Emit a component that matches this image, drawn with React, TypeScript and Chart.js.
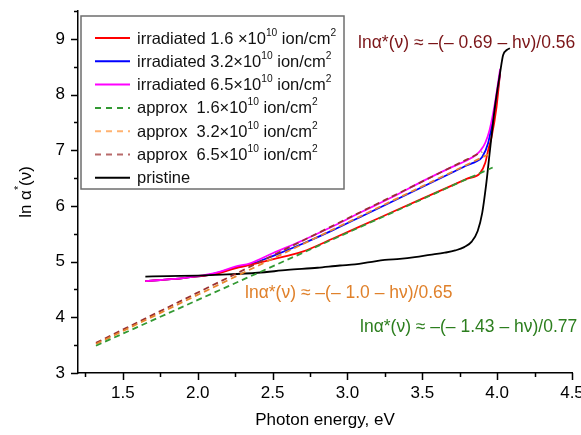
import React, { useEffect, useRef } from "react";
import { Chart, registerables } from "chart.js";

Chart.register(...registerables);

const FONT = "'Liberation Sans', Arial, Helvetica, sans-serif";

// ---- ticks ----
const xTicks = [1.5, 2.0, 2.5, 3.0, 3.5, 4.0, 4.5];
const xMinorTicks = [1.25, 1.75, 2.25, 2.75, 3.25, 3.75, 4.25];
const yTicks = [3, 4, 5, 6, 7, 8, 9];
const yMinorTicks = [3.5, 4.5, 5.5, 6.5, 7.5, 8.5, 9.5];

// ---- series ----
const irr16X = [1.65, 1.75, 1.85, 1.95, 2.05, 2.15, 2.25, 2.35, 2.5, 2.7, 2.9, 3.1, 3.3, 3.5, 3.7, 3.8, 3.886, 3.92, 3.94, 3.963, 3.996, 4.019];
const irr16Y = [4.65, 4.67, 4.69, 4.72, 4.75, 4.8, 4.88, 4.94, 5.04, 5.18, 5.41, 5.65, 5.89, 6.13, 6.37, 6.49, 6.59, 6.77, 7.0, 7.24, 7.78, 8.38];

const irr32X = [1.65, 1.75, 1.85, 1.95, 2.05, 2.15, 2.25, 2.35, 2.5, 2.7, 2.9, 3.1, 3.3, 3.5, 3.7, 3.8, 3.86, 3.9, 3.94, 3.975, 4.0, 4.02];
const irr32Y = [4.65, 4.67, 4.69, 4.72, 4.75, 4.81, 4.89, 4.95, 5.1, 5.32, 5.56, 5.82, 6.08, 6.34, 6.6, 6.73, 6.8, 6.88, 7.13, 7.61, 8.0, 8.38];

const irr65X = [1.65, 1.75, 1.85, 1.95, 2.05, 2.15, 2.25, 2.35, 2.5, 2.7, 2.9, 3.1, 3.3, 3.5, 3.7, 3.8, 3.86, 3.89, 3.92, 3.95, 3.985, 4.02];
const irr65Y = [4.65, 4.67, 4.69, 4.72, 4.76, 4.82, 4.91, 4.97, 5.15, 5.38, 5.63, 5.9, 6.16, 6.44, 6.7, 6.82, 6.92, 7.0, 7.13, 7.37, 7.84, 8.46];

const appr16X = [1.32, 3.97];
const appr16Y = [3.49, 6.69];
const appr32X = [1.32, 3.96];
const appr32Y = [3.52, 6.95];
const appr65X = [1.32, 3.9];
const appr65Y = [3.54, 6.97];

const pristX = [1.65, 1.8, 2.0, 2.2, 2.4, 2.6, 2.8, 2.95, 3.05, 3.15, 3.25, 3.35, 3.45, 3.55, 3.65, 3.72, 3.78, 3.83, 3.87, 3.9, 3.925, 3.952, 3.985, 4.019, 4.04, 4.064, 4.085];
const pristY = [4.73, 4.74, 4.75, 4.77, 4.8, 4.85, 4.89, 4.93, 4.95, 4.99, 5.03, 5.05, 5.08, 5.12, 5.16, 5.2, 5.26, 5.36, 5.55, 5.87, 6.35, 7.0, 7.78, 8.38, 8.71, 8.8, 8.83];

const seriesLabels = [
  "irradiated 1.6 ×10^{10} ion/cm^{2}",
  "irradiated 3.2×10^{10} ion/cm^{2}",
  "irradiated 6.5×10^{10} ion/cm^{2}",
  "approx  1.6×10^{10} ion/cm^{2}",
  "approx  3.2×10^{10} ion/cm^{2}",
  "approx  6.5×10^{10} ion/cm^{2}",
  "pristine",
];

const annotationTexts = [
  "lnα*(ν) ≈ –(– 0.69 – hν)/0.56",
  "lnα*(ν) ≈ –(– 1.0 – hν)/0.65",
  "lnα*(ν) ≈ –(– 1.43 – hν)/0.77",
];

const xTitle = "Photon energy, eV";
const yTitle = "ln α^{*}(ν)";

function pts(xs: number[], ys: number[]) {
  return xs.map((x, i) => ({ x, y: ys[i] }));
}

type Part = { t: string; sup: boolean };
function parseRich(text: string): Part[] {
  const parts: Part[] = [];
  const re = /\^\{([^}]*)\}/g;
  let last = 0;
  let m: RegExpExecArray | null;
  while ((m = re.exec(text))) {
    if (m.index > last) parts.push({ t: text.slice(last, m.index), sup: false });
    parts.push({ t: m[1], sup: true });
    last = m.index + m[0].length;
  }
  if (last < text.length) parts.push({ t: text.slice(last), sup: false });
  return parts;
}

function richWidth(ctx: CanvasRenderingContext2D, text: string, size: number) {
  let w = 0;
  for (const p of parseRich(text)) {
    ctx.font = `${p.sup ? size * 0.62 : size}px ${FONT}`;
    w += ctx.measureText(p.t).width;
  }
  return w;
}

function drawRich(ctx: CanvasRenderingContext2D, text: string, x: number, y: number, size: number, color: string) {
  ctx.fillStyle = color;
  ctx.textBaseline = "middle";
  ctx.textAlign = "left";
  let cx = x;
  for (const p of parseRich(text)) {
    ctx.font = `${p.sup ? size * 0.62 : size}px ${FONT}`;
    ctx.fillText(p.t, cx, p.sup ? y - size * 0.38 : y);
    cx += ctx.measureText(p.t).width;
  }
}

const annotationPlugin = {
  id: "annotations",
  afterDatasetsDraw(chart: any) {
    const { ctx, scales } = chart;
    const cfg = [
      { x: 3.071, y: 8.93, color: "#7B1518" },
      { x: 2.316, y: 4.44, color: "#E0812B" },
      { x: 3.084, y: 3.83, color: "#2C7E1E" },
    ];
    ctx.save();
    annotationTexts.forEach((t, i) => {
      const c = cfg[i];
      drawRich(ctx, t, scales.x.getPixelForValue(c.x), scales.y.getPixelForValue(c.y), 17.5, c.color);
    });
    ctx.restore();
  },
};

const axisPlugin = {
  id: "axisDecor",
  afterDraw(chart: any) {
    const { ctx, scales, chartArea } = chart;
    const xs = scales.x;
    const ys = scales.y;
    ctx.save();
    ctx.strokeStyle = "#000";
    ctx.lineWidth = 1.5;
    ctx.beginPath();
    xTicks.forEach((v) => {
      const p = Math.round(xs.getPixelForValue(v)) + 0.5;
      ctx.moveTo(p, chartArea.bottom);
      ctx.lineTo(p, chartArea.bottom + 7);
    });
    xMinorTicks.forEach((v) => {
      const p = Math.round(xs.getPixelForValue(v)) + 0.5;
      ctx.moveTo(p, chartArea.bottom);
      ctx.lineTo(p, chartArea.bottom + 4);
    });
    yTicks.forEach((v) => {
      const p = Math.round(ys.getPixelForValue(v)) + 0.5;
      ctx.moveTo(chartArea.left, p);
      ctx.lineTo(chartArea.left - 7, p);
    });
    yMinorTicks.forEach((v) => {
      const p = Math.round(ys.getPixelForValue(v)) + 0.5;
      ctx.moveTo(chartArea.left, p);
      ctx.lineTo(chartArea.left - 4, p);
    });
    ctx.stroke();

    // axis titles
    ctx.fillStyle = "#000";
    ctx.font = `17px ${FONT}`;
    ctx.textAlign = "center";
    ctx.textBaseline = "middle";
    ctx.fillText(xTitle, (chartArea.left + chartArea.right) / 2, 420);

    ctx.translate(26, (chartArea.top + chartArea.bottom) / 2);
    ctx.rotate(-Math.PI / 2);
    const w = richWidth(ctx, yTitle, 17);
    drawRich(ctx, yTitle, -w / 2, 0, 17, "#000");
    ctx.restore();
  },
};

const legendPlugin = {
  id: "customLegend",
  afterDraw(chart: any) {
    const { ctx, chartArea } = chart;
    const left = chartArea.left + 3;
    const top = chartArea.top + 5;
    const width = 263;
    const height = 173;
    ctx.save();
    ctx.fillStyle = "#fff";
    ctx.fillRect(left, top, width, height);
    ctx.strokeStyle = "#6e6e6e";
    ctx.lineWidth = 1.5;
    ctx.strokeRect(left, top, width, height);
    chart.data.datasets.forEach((ds: any, i: number) => {
      const y = top + 22 + i * 23.3;
      ctx.strokeStyle = ds.legendColor || ds.borderColor;
      ctx.lineWidth = 2;
      ctx.setLineDash(ds.borderDash && ds.borderDash.length ? [6, 5] : []);
      ctx.beginPath();
      ctx.moveTo(left + 14, y);
      ctx.lineTo(left + 49, y);
      ctx.stroke();
      ctx.setLineDash([]);
      drawRich(ctx, ds.label, left + 56, y + 1, 16.5, "#111");
    });
    ctx.restore();
  },
};

export default function App() {
  const ref = useRef<HTMLCanvasElement | null>(null);

  useEffect(() => {
    document.body.style.margin = "0";
    const canvas = ref.current;
    if (!canvas) return;
    const lineDefaults = {
      pointRadius: 0,
      borderWidth: 1.8,
      fill: false,
      cubicInterpolationMode: "monotone" as const,
    };
    const chart = new Chart(canvas, {
      type: "line",
      data: {
        datasets: [
          { ...lineDefaults, label: seriesLabels[0], data: pts(irr16X, irr16Y), borderColor: "#ff0000", order: 3 },
          { ...lineDefaults, label: seriesLabels[1], data: pts(irr32X, irr32Y), borderColor: "#0000ff", order: 3 },
          { ...lineDefaults, label: seriesLabels[2], data: pts(irr65X, irr65Y), borderColor: "#ff00ff", order: 2 },
          { ...lineDefaults, label: seriesLabels[3], data: pts(appr16X, appr16Y), borderColor: "#339933", borderDash: [6, 4], order: 0 },
          { ...lineDefaults, label: seriesLabels[4], data: pts(appr32X, appr32Y), borderColor: "#e8862e", legendColor: "#ffb270", borderDash: [6, 4], order: 0 },
          { ...lineDefaults, label: seriesLabels[5], data: pts(appr65X, appr65Y), borderColor: "#9a3030", legendColor: "#b86a6a", borderDash: [6, 4], order: 0 },
          { ...lineDefaults, label: seriesLabels[6], data: pts(pristX, pristY), borderColor: "#000000", order: 1 },
        ] as any,
      },
      options: {
        responsive: false,
        animation: false,
        layout: { padding: { top: 11, right: 9, left: 0, bottom: 0 } },
        plugins: {
          legend: { display: false },
          tooltip: { enabled: false },
        },
        scales: {
          x: {
            type: "linear",
            min: 1.2,
            max: 4.5,
            grid: { display: false, drawTicks: false, tickLength: 0 },
            border: { display: true, color: "#000", width: 1.5 },
            ticks: {
              padding: 10,
              color: "#000",
              font: { family: FONT, size: 17 },
              maxRotation: 0,
              autoSkip: false,
              callback: (v: any) => Number(v).toFixed(1),
            },
            afterBuildTicks: (scale: any) => {
              scale.ticks = xTicks.map((v) => ({ value: v }));
            },
            afterFit: (scale: any) => {
              scale.height = 62;
              scale.paddingLeft = 0;
              scale.paddingRight = 0;
            },
          },
          y: {
            type: "linear",
            min: 3,
            max: 9.5,
            grid: { display: false, drawTicks: false, tickLength: 0 },
            border: { display: true, color: "#000", width: 1.5 },
            ticks: {
              padding: 13,
              color: "#000",
              font: { family: FONT, size: 17 },
              autoSkip: false,
              callback: (v: any) => String(v),
            },
            afterBuildTicks: (scale: any) => {
              scale.ticks = yTicks.map((v) => ({ value: v }));
            },
            afterFit: (scale: any) => {
              scale.width = 78;
              scale.paddingTop = 0;
              scale.paddingBottom = 0;
            },
          },
        },
      } as any,
      plugins: [annotationPlugin, axisPlugin, legendPlugin],
    });
    return () => chart.destroy();
  }, []);

  return (
    <div style={{ position: "absolute", left: 0, top: 0, width: 581, height: 435, background: "#fff" }}>
      <canvas ref={ref} width={581} height={435} />
    </div>
  );
}
